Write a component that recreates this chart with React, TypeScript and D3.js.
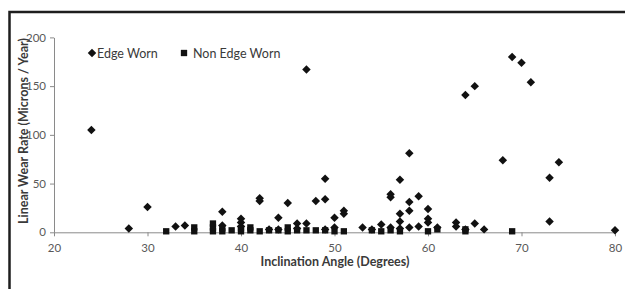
import React, { useEffect, useRef } from 'react';
import * as d3 from 'd3';

interface Pt {
    angle: number;
    rate: number;
}

// Edge worn samples (diamonds)
const edgeAngles = [24, 28, 30, 33, 34, 38, 38, 40, 40, 40, 42, 42, 43, 44, 44, 45, 46, 46, 47, 47, 48, 49, 49, 49, 50, 50, 51, 51, 53, 54, 55, 56, 56, 56, 57, 57, 57, 57, 58, 58, 58, 58, 59, 59, 60, 60, 60, 61, 63, 63, 64, 64, 65, 65, 66, 68, 69, 70, 71, 73, 73, 74, 80];
const edgeRates = [105, 4, 26, 6, 7, 21, 7, 14, 10, 6, 35, 32, 3, 15, 3, 30, 9, 4, 9, 167, 32, 55, 34, 3, 15, 5, 22, 19, 5, 3, 8, 39, 36, 5, 54, 19, 11, 4, 81, 31, 22, 5, 37, 6, 24, 14, 10, 5, 10, 6, 141, 3, 150, 9, 3, 74, 180, 174, 154, 56, 11, 72, 2];

// Non edge worn samples (squares)
const nonEdgeAngles = [32, 35, 35, 37, 37, 37, 38, 38, 39, 40, 40, 41, 41, 42, 43, 44, 45, 45, 46, 47, 48, 49, 50, 51, 54, 55, 56, 57, 60, 61, 64, 64, 69];
const nonEdgeRates = [0, 0, 4, 0, 4, 8, 0, 3, 1, 0, 3, 1, 4, 0, 1, 1, 0, 4, 1, 1, 1, 1, 0, 0, 1, 0, 1, 0, 0, 2, 0, 2, 0];

const xTicks = [20, 30, 40, 50, 60, 70, 80];
const yTicks = [0, 50, 100, 150, 200];

const edgeWorn: Pt[] = edgeAngles.map((a, i) => ({ angle: a, rate: edgeRates[i] }));
const nonEdgeWorn: Pt[] = nonEdgeAngles.map((a, i) => ({ angle: a, rate: nonEdgeRates[i] }));

const FONT = 'Lato, "Open Sans", sans-serif';

const diamondType = {
    draw(ctx: any, size: number) {
        const r = Math.sqrt(size) / 2;
        ctx.moveTo(0, -r);
        ctx.lineTo(r, 0);
        ctx.lineTo(0, r);
        ctx.lineTo(-r, 0);
        ctx.closePath();
    }
};

export default function App() {
    const svgRef = useRef<SVGSVGElement>(null);

    useEffect(() => {
        if (!svgRef.current) return;
        const svg = d3.select(svgRef.current);
        svg.selectAll('*').remove();

        const x = d3.scaleLinear().domain([20, 80]).range([54, 615]);
        const y = d3.scaleLinear().domain([0, 200]).range([232.3, 37.4]);

        // outer frame
        svg.append('rect')
            .attr('x', 9.5).attr('y', 12)
            .attr('width', 640).attr('height', 300)
            .attr('fill', 'white')
            .attr('stroke', '#1e1e1e')
            .attr('stroke-width', 2.5);

        const axisColor = '#8a8a8a';

        // x axis
        const xAxis = svg.append('g')
            .attr('transform', `translate(0,${y(0)})`)
            .call(d3.axisBottom(x).tickValues(xTicks).tickSize(4).tickSizeOuter(0).tickPadding(8));
        xAxis.select('.domain').attr('stroke', axisColor);
        xAxis.selectAll('.tick line').attr('stroke', axisColor);
        xAxis.selectAll('.tick text')
            .attr('fill', '#595959')
            .attr('font-family', FONT)
            .attr('font-size', 11.5);

        // y axis
        const yAxis = svg.append('g')
            .attr('transform', `translate(${x(20)},0)`)
            .call(d3.axisLeft(y).tickValues(yTicks).tickSize(4).tickSizeOuter(0).tickPadding(4));
        yAxis.select('.domain').attr('stroke', axisColor);
        yAxis.selectAll('.tick line').attr('stroke', axisColor);
        yAxis.selectAll('.tick text')
            .attr('fill', '#595959')
            .attr('font-family', FONT)
            .attr('font-size', 11.5);

        // titles
        svg.append('text')
            .attr('x', 335).attr('y', 266)
            .attr('text-anchor', 'middle')
            .attr('font-family', FONT)
            .attr('font-weight', 'bold')
            .attr('font-size', 12.5)
            .attr('fill', '#3a3a3a')
            .text('Inclination Angle (Degrees)');

        svg.append('text')
            .attr('transform', `translate(28,131) rotate(-90)`)
            .attr('text-anchor', 'middle')
            .attr('font-family', FONT)
            .attr('font-weight', 'bold')
            .attr('font-size', 12.5)
            .attr('fill', '#3a3a3a')
            .text('Linear Wear Rate (Microns / Year)');

        const diamond = d3.symbol().type(diamondType as any).size(72);
        const square = d3.symbol().type(d3.symbolSquare).size(40);

        svg.append('g')
            .selectAll('path')
            .data(nonEdgeWorn)
            .join('path')
            .attr('transform', d => `translate(${x(d.angle)},${y(d.rate) - 1})`)
            .attr('d', square as any)
            .attr('fill', '#111');

        svg.append('g')
            .selectAll('path')
            .data(edgeWorn)
            .join('path')
            .attr('transform', d => `translate(${x(d.angle)},${y(d.rate)})`)
            .attr('d', diamond as any)
            .attr('fill', '#111');

        // legend
        const legend = svg.append('g').attr('font-family', FONT).attr('font-size', 12.5).attr('fill', '#3a3a3a');
        legend.append('path').attr('transform', 'translate(92,53)').attr('d', diamond as any).attr('fill', '#111');
        legend.append('text').attr('x', 97).attr('y', 57.5).text('Edge Worn');
        legend.append('path').attr('transform', 'translate(184,53)').attr('d', square as any).attr('fill', '#111');
        legend.append('text').attr('x', 193).attr('y', 57.5).text('Non Edge Worn');
    }, []);

    return (
        <div style={{ position: 'absolute', left: 0, top: 0, width: 625, height: 289 }}>
            <svg ref={svgRef} width={625} height={289} style={{ display: 'block' }} />
        </div>
    );
}
